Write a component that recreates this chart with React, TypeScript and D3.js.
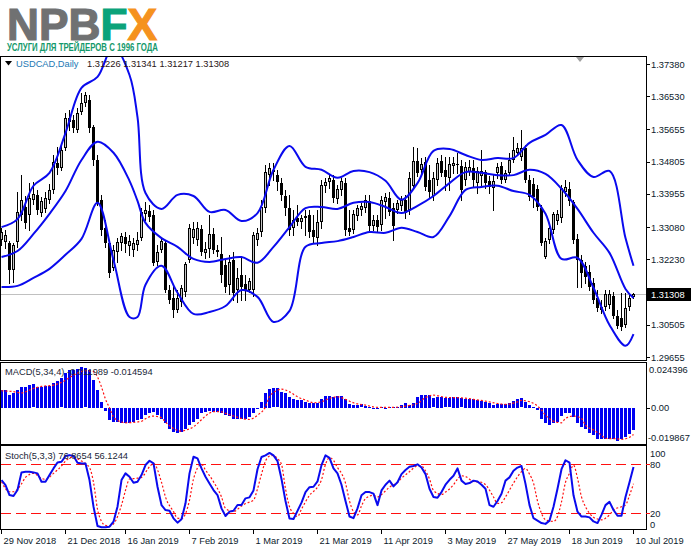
import React from 'react';
import * as d3 from 'd3';

// ---------- DATA ----------
const openP = [1.3274,1.3269,1.3266,1.3195,1.3269,1.3340,1.3361,1.3340,1.3380,1.3393,
1.3345,1.3356,1.3380,1.3406,1.3477,1.3464,1.3517,1.3585,1.3590,1.3564,
1.3611,1.3635,1.3643,1.3572,1.3485,1.3380,1.3306,1.3266,1.3200,1.3243,
1.3266,1.3282,1.3258,1.3248,1.3261,1.3279,1.3343,1.3351,1.3340,1.3216,
1.3248,1.3266,1.3142,1.3121,1.3090,1.3111,1.3137,1.3221,1.3279,1.3274,
1.3303,1.3240,1.3250,1.3290,1.3248,1.3237,1.3208,1.3156,1.3221,1.3142,
1.3182,1.3158,1.3142,1.3142,1.3274,1.3295,1.3358,1.3445,1.3459,1.3445,
1.3424,1.3390,1.3358,1.3306,1.3332,1.3322,1.3332,1.3340,1.3300,1.3279,
1.3322,1.3417,1.3427,1.3432,1.3382,1.3406,1.3424,1.3306,1.3300,1.3337,
1.3353,1.3358,1.3377,1.3311,1.3327,1.3314,1.3374,1.3385,1.3358,1.3353,
1.3364,1.3380,1.3353,1.3417,1.3482,1.3459,1.3480,1.3432,1.3390,1.3432,
1.3482,1.3459,1.3438,1.3469,1.3474,1.3469,1.3432,1.3453,1.3464,1.3424,
1.3443,1.3453,1.3430,1.3411,1.3451,1.3469,1.3432,1.3451,1.3485,1.3504,
1.3493,1.3517,1.3432,1.3422,1.3409,1.3358,1.3229,1.3274,1.3300,1.3324,
1.3332,1.3401,1.3409,1.3374,1.3277,1.3221,1.3206,1.3190,1.3161,1.3121,
1.3097,1.3097,1.3103,1.3127,1.3074,1.3069,1.3050,1.3097,1.31226];
const highP = [1.3306,1.3300,1.3271,1.3266,1.3401,1.3445,1.3390,1.3424,1.3427,1.3406,
1.3387,1.3401,1.3422,1.3498,1.3519,1.3530,1.3609,1.3617,1.3604,1.3622,
1.3662,1.3664,1.3656,1.3577,1.3498,1.3393,1.3327,1.3274,1.3261,1.3279,
1.3293,1.3295,1.3287,1.3279,1.3295,1.3358,1.3374,1.3366,1.3353,1.3261,
1.3279,1.3274,1.3156,1.3156,1.3142,1.3156,1.3216,1.3316,1.3322,1.3322,
1.3314,1.3269,1.3340,1.3306,1.3261,1.3282,1.3227,1.3235,1.3243,1.3200,
1.3229,1.3182,1.3174,1.3295,1.3306,1.3380,1.3472,1.3477,1.3477,1.3459,
1.3438,1.3406,1.3393,1.3353,1.3366,1.3340,1.3353,1.3353,1.3340,1.3353,
1.3432,1.3438,1.3445,1.3445,1.3419,1.3438,1.3438,1.3353,1.3353,1.3366,
1.3372,1.3393,1.3393,1.3340,1.3340,1.3390,1.3398,1.3401,1.3372,1.3380,
1.3390,1.3393,1.3453,1.3519,1.3517,1.3490,1.3493,1.3472,1.3453,1.3490,
1.3498,1.3493,1.3493,1.3493,1.3504,1.3485,1.3480,1.3485,1.3485,1.3467,
1.3511,1.3459,1.3443,1.3445,1.3477,1.3480,1.3459,1.3504,1.3546,1.3530,
1.3564,1.3525,1.3445,1.3438,1.3419,1.3366,1.3279,1.3314,1.3348,1.3353,
1.3419,1.3432,1.3427,1.3380,1.3290,1.3235,1.3216,1.3208,1.3174,1.3142,
1.3116,1.3142,1.3142,1.3137,1.3090,1.3135,1.3135,1.3129,1.31341];
const lowP = [1.3261,1.3253,1.3161,1.3164,1.3256,1.3327,1.3306,1.3300,1.3369,1.3343,
1.3337,1.3348,1.3372,1.3398,1.3448,1.3459,1.3511,1.3564,1.3559,1.3559,
1.3606,1.3627,1.3559,1.3472,1.3366,1.3287,1.3256,1.3177,1.3195,1.3216,
1.3248,1.3243,1.3235,1.3232,1.3248,1.3274,1.3327,1.3324,1.3208,1.3208,
1.3243,1.3137,1.3108,1.3071,1.3084,1.3100,1.3127,1.3216,1.3266,1.3261,
1.3235,1.3227,1.3229,1.3240,1.3232,1.3164,1.3137,1.3132,1.3116,1.3111,
1.3116,1.3116,1.3137,1.3127,1.3261,1.3285,1.3348,1.3419,1.3432,1.3406,
1.3380,1.3340,1.3287,1.3287,1.3314,1.3306,1.3287,1.3282,1.3269,1.3261,
1.3306,1.3401,1.3411,1.3374,1.3372,1.3393,1.3287,1.3287,1.3293,1.3327,
1.3340,1.3348,1.3300,1.3300,1.3295,1.3300,1.3332,1.3340,1.3274,1.3345,
1.3353,1.3332,1.3343,1.3409,1.3443,1.3445,1.3406,1.3385,1.3380,1.3419,
1.3443,1.3406,1.3406,1.3451,1.3451,1.3380,1.3419,1.3445,1.3414,1.3398,
1.3414,1.3411,1.3398,1.3353,1.3438,1.3424,1.3427,1.3445,1.3480,1.3498,
1.3485,1.3427,1.3380,1.3361,1.3353,1.3261,1.3227,1.3266,1.3293,1.3316,
1.3322,1.3390,1.3366,1.3266,1.3150,1.3150,1.3161,1.3142,1.3108,1.3087,
1.3082,1.3090,1.3095,1.3069,1.3042,1.3037,1.3045,1.3090,1.31217];
const closeP = [1.3295,1.3287,1.3195,1.3261,1.3348,1.3380,1.3319,1.3385,1.3395,1.3353,
1.3377,1.3385,1.3406,1.3480,1.3464,1.3511,1.3596,1.3596,1.3569,1.3609,
1.3635,1.3656,1.3569,1.3485,1.3372,1.3300,1.3266,1.3187,1.3248,1.3269,
1.3285,1.3264,1.3271,1.3266,1.3274,1.3348,1.3353,1.3335,1.3214,1.3243,
1.3271,1.3142,1.3116,1.3090,1.3121,1.3148,1.3211,1.3306,1.3303,1.3306,
1.3243,1.3250,1.3290,1.3248,1.3243,1.3182,1.3150,1.3216,1.3135,1.3174,
1.3150,1.3140,1.3166,1.3287,1.3293,1.3361,1.3453,1.3464,1.3453,1.3427,
1.3393,1.3358,1.3300,1.3327,1.3322,1.3332,1.3337,1.3295,1.3282,1.3322,
1.3419,1.3427,1.3438,1.3385,1.3409,1.3430,1.3300,1.3295,1.3343,1.3358,
1.3364,1.3380,1.3311,1.3327,1.3308,1.3380,1.3387,1.3348,1.3311,1.3372,
1.3380,1.3345,1.3438,1.3482,1.3451,1.3474,1.3414,1.3401,1.3438,1.3477,
1.3451,1.3440,1.3474,1.3477,1.3472,1.3406,1.3467,1.3467,1.3432,1.3456,
1.3456,1.3424,1.3414,1.3430,1.3467,1.3432,1.3451,1.3485,1.3511,1.3517,
1.3517,1.3432,1.3387,1.3387,1.3361,1.3266,1.3271,1.3306,1.3343,1.3343,
1.3411,1.3414,1.3377,1.3274,1.3221,1.3187,1.3177,1.3150,1.3116,1.3095,
1.3090,1.3132,1.3132,1.3074,1.3048,1.3045,1.3095,1.3121,1.31308];

const bbIdx = [0,4,8,12,16,20,24,28,32,34,36,40,44,48,52,56,60,64,68,72,76,80,84,88,92,96,100,104,108,112,116,120,124,128,132,136,140,144,148,152,156,158];
const bbUpper = [1.3308,1.3329,1.3417,1.3451,1.3556,1.3675,1.3704,1.3785,1.3709,1.3598,1.3398,1.3356,1.3393,1.3390,1.3348,1.3353,1.3324,1.3345,1.3459,1.3522,1.3467,1.3459,1.3438,1.3456,1.3453,1.3430,1.3380,1.3424,1.3509,1.3514,1.3498,1.3485,1.3490,1.3490,1.3530,1.3551,1.3577,1.3485,1.3440,1.3456,1.3279,1.3206];
const bbMiddle = [1.3229,1.3245,1.3290,1.3343,1.3403,1.3485,1.3533,1.3504,1.3430,1.3377,1.3319,1.3279,1.3256,1.3224,1.3216,1.3224,1.3229,1.3214,1.3256,1.3308,1.3358,1.3361,1.3356,1.3372,1.3374,1.3361,1.3345,1.3364,1.3390,1.3424,1.3453,1.3451,1.3445,1.3445,1.3459,1.3448,1.3409,1.3356,1.3293,1.3240,1.3145,1.3121];
const bbLower = [1.3150,1.3153,1.3174,1.3198,1.3235,1.3277,1.3372,1.3221,1.3071,1.3071,1.3156,1.3206,1.3135,1.3079,1.3084,1.3100,1.3142,1.3124,1.3058,1.3087,1.3256,1.3266,1.3271,1.3282,1.3295,1.3293,1.3306,1.3295,1.3282,1.3337,1.3406,1.3414,1.3417,1.3403,1.3393,1.3343,1.3224,1.3227,1.3148,1.3050,1.2995,1.3026];

const macdMain = [0.0098,0.0098,0.0070,0.0080,0.0098,0.0113,0.0116,0.0125,0.0129,0.0116,
0.0116,0.0120,0.0120,0.0135,0.0147,0.0162,0.0190,0.0208,0.0208,0.0212,
0.0223,0.0217,0.0208,0.0153,0.0098,0.0034,-0.0016,-0.0067,-0.0076,-0.0076,
-0.0082,-0.0082,-0.0082,-0.0076,-0.0067,-0.0058,-0.0040,-0.0030,-0.0021,-0.0040,
-0.0058,-0.0085,-0.0113,-0.0131,-0.0137,-0.0131,-0.0118,-0.0095,-0.0076,-0.0058,
-0.0030,-0.0021,-0.0016,-0.0021,-0.0021,-0.0027,-0.0040,-0.0045,-0.0063,-0.0063,
-0.0063,-0.0058,-0.0049,-0.0030,-0.0003,0.0034,0.0080,0.0102,0.0107,0.0107,
0.0089,0.0080,0.0061,0.0047,0.0043,0.0043,0.0034,0.0025,0.0025,0.0028,
0.0047,0.0065,0.0065,0.0061,0.0065,0.0065,0.0047,0.0021,0.0015,0.0015,
0.0019,0.0012,0.0006,-0.0003,-0.0008,0.0006,-0.0003,0.0006,0.0006,0.0006,
0.0015,0.0025,0.0015,0.0028,0.0058,0.0070,0.0070,0.0070,0.0052,0.0058,
0.0058,0.0052,0.0052,0.0061,0.0061,0.0052,0.0047,0.0047,0.0047,0.0043,
0.0039,0.0034,0.0025,0.0015,0.0021,0.0021,0.0021,0.0025,0.0039,0.0047,
0.0052,0.0034,0.0015,0.0006,-0.0012,-0.0063,-0.0085,-0.0095,-0.0085,-0.0076,
-0.0045,-0.0030,-0.0030,-0.0049,-0.0085,-0.0104,-0.0118,-0.0137,-0.0150,-0.0168,
-0.0173,-0.0168,-0.0168,-0.0173,-0.0181,-0.0173,-0.0162,-0.0144,-0.0120];
const macdSigIdx = [0,3,5,6,8,10,13,15,18,21,23,24,25,26,27,28,30,31,35,36,38,40,41,43,45,46,48,50,51,53,55,56,58,60,62,64,66,67,69,70,72,74,76,78,80,82,84,86,88,91,94,98,101,104,106,108,111,115,118,121,124,126,129,130,132,134,135,136,138,140,141,143,145,146,148,150,151,154,155,157,158];
const macdSigVal = [0.0094,0.0089,0.0082,0.0088,0.0107,0.0118,0.0125,0.0140,0.0180,0.0204,0.0199,0.0170,0.0115,0.0048,0.0000,-0.0049,-0.0078,-0.0082,-0.0074,-0.0060,-0.0045,-0.0055,-0.0078,-0.0113,-0.0128,-0.0123,-0.0104,-0.0065,-0.0045,-0.0021,-0.0022,-0.0030,-0.0045,-0.0058,-0.0064,-0.0040,0.0006,0.0061,0.0097,0.0103,0.0088,0.0061,0.0043,0.0028,0.0034,0.0052,0.0061,0.0047,0.0028,0.0015,0.0003,0.0003,0.0010,0.0024,0.0057,0.0070,0.0058,0.0055,0.0047,0.0037,0.0024,0.0019,0.0033,0.0041,0.0034,0.0010,-0.0012,-0.0040,-0.0073,-0.0082,-0.0058,-0.0045,-0.0058,-0.0095,-0.0122,-0.0150,-0.0168,-0.0170,-0.0173,-0.0162,-0.0146];

const stochMain = [60.7,54.6,42.3,41.1,48.5,70.1,70.9,70.9,70.1,68.9,
58.7,58.7,66.8,75.0,82.3,83.2,90.1,91.3,90.1,81.9,
81.1,81.1,60.7,28.1,4.4,2.8,2.8,3.6,9.7,28.1,
60.7,68.9,64.8,57.4,58.7,66.8,79.1,84.4,81.1,52.5,
30.1,24.0,23.1,13.8,8.5,12.6,32.2,68.9,89.3,87.2,
75.0,64.8,56.6,48.5,42.3,26.0,16.6,22.0,23.1,30.1,
30.1,38.3,39.5,48,74,89,91,94,91,84,
62,35,13.5,13,23,33,46,52,52.5,59,
79,91,88,75,69,55,35,16,14,26,
42,46,46,44,30,48,55,60,53,58,
68,73,77,78,80,76,68,50,40,39,
46,55,61,66,75,60,56,57,60,59,
55,50,30,28,35,44,60,64,72,76,
78,56,30,14,11,8,7,11,28,50,
74,85,82,42,22,16,16,15,10,8,
18,30,34,24,17,17,40,58,76.8654];
const stochSigIdx = [0,2,3,5,6,8,10,11,13,15,16,18,19,20,22,23,24,25,26,27,28,30,31,32,34,35,37,38,40,41,43,44,45,47,48,50,51,53,55,56,58,60,61,63,64,65,66,67,68,69,70,71,72,73,74,75,77,79,80,81,82,83,84,85,86,87,88,89,90,91,93,94,95,97,99,100,102,104,105,106,107,108,110,111,113,114,115,116,118,120,121,123,124,125,126,128,130,131,132,133,134,135,136,138,139,140,141,142,143,144,145,146,147,148,149,150,151,152,153,155,156,157,158];
const stochSigVal = [58.7,46.4,46.4,56,64,68.9,62.8,61.5,68.9,78,84,89,87,84,76,58,25,10,5.2,4.4,7,30,48,62,63,64,77,81,58,40,22,14,13.5,36,62,80,73,58.7,40,26,22,29,32,36,50,68,84,90,91,87,80,50,28,20,16,25,42,52,61,80,88,85,76,69,57,35,22,18,29,38,42,40,43,52,58,63,71,78,78,72,62,48,43,46,55,62,66,65,59,58,55,40,32,33,40,57,71,75,68,57,35,20,12,10,16,34,58,69,79,63,40,28,20,15,13,12,14,18,24,28,30,42,56.1244];

const priceTicks = [1.3738, 1.3653, 1.35655, 1.34805, 1.33955, 1.3308, 1.3223, 1.30505, 1.29655];
const priceTickText = ['1.37380','1.36530','1.35655','1.34805','1.33955','1.33080','1.32230','1.30505','1.29655'];
const lastPrice = 1.31308;
const headerValues = ['1.31226', '1.31341', '1.31217', '1.31308'];
const macdTicks = [0.024396, 0.0, -0.019867];
const macdTickText = ['0.024396', '0.00', '-0.019867'];
const stochTicks = [100, 80, 20, 0];
const stochLevels = [80, 20];
const dateIdx = [0, 16, 31, 47, 63, 79, 95, 111, 126, 142, 158];
const dateText = ['29 Nov 2018','21 Dec 2018','16 Jan 2019','7 Feb 2019','1 Mar 2019','21 Mar 2019','11 Apr 2019','3 May 2019','27 May 2019','18 Jun 2019','10 Jul 2019'];

// ---------- CHART ----------
const FONT = "'Liberation Sans', Arial, sans-serif";
const FS = 9.3;
const AXIS_X = 646;

export default function App() {
  const x = d3.scaleLinear().domain([0, 158]).range([1.5, 633.5]);
  const yP = d3.scaleLinear().domain([1.29655, 1.3738]).range([357, 64]);
  const yM = d3.scaleLinear().domain([-0.019867, 0.024396]).range([444, 363.5]);
  const yS = d3.scaleLinear().domain([0, 100]).range([529.6, 448]);
  const bars = d3.range(closeP.length);

  const band = (vals: number[]) =>
    d3.line<number>().x((_, k) => x(bbIdx[k])).y((v) => yP(v)).curve(d3.curveCatmullRom.alpha(0.5))(vals) || '';
  const macdSig = d3.line<number>().x((_, k) => x(macdSigIdx[k])).y((v) => yM(v)).curve(d3.curveMonotoneX)(macdSigVal) || '';
  const stMain = d3.line<number>().x((_, k) => x(k)).y((v) => yS(v))(stochMain) || '';
  const stSig = d3.line<number>().x((_, k) => x(stochSigIdx[k])).y((v) => yS(v)).curve(d3.curveMonotoneX)(stochSigVal) || '';

  const lastY = Math.round(yP(lastPrice)) + 0.5;

  return (
    <svg width={691} height={549} style={{ position: 'absolute', left: 0, top: 0, display: 'block' }} fontFamily={FONT}>
      <defs>
        <clipPath id="mainClip"><rect x={1} y={57} width={AXIS_X - 1} height={303} /></clipPath>
        <clipPath id="macdClip"><rect x={1} y={363} width={AXIS_X - 1} height={81} /></clipPath>
        <clipPath id="stClip"><rect x={1} y={446} width={AXIS_X - 1} height={83} /></clipPath>
        <clipPath id="xClip"><polygon points="128,27 142,27 142,44 120,44" /></clipPath>
      </defs>
      <rect x={0} y={0} width={691} height={549} fill="#ffffff" />

      {/* Logo */}
      <text x={7} y={40} fontFamily={FONT} fontWeight="bold" fontSize={44.5} textLength={150} lengthAdjust="spacingAndGlyphs">
        <tspan fill="#707172" stroke="#707172" strokeWidth={1.2}>NPB</tspan>
        <tspan fill="#0ba37a" stroke="#0ba37a" strokeWidth={1.2}>F</tspan>
        <tspan fill="#f5921e" stroke="#f5921e" strokeWidth={1.2}>X</tspan>
      </text>
      <text x={7} y={50.5} fontFamily="'Liberation Sans Narrow', 'Liberation Sans', Arial, sans-serif" fontWeight="bold" fontSize={11.5} fill="#14996b" textLength={151} lengthAdjust="spacingAndGlyphs">
        УСЛУГИ ДЛЯ ТРЕЙДЕРОВ С 1996 ГОДА
      </text>

      {/* Panel frames */}
      <g fill="none" stroke="#000" strokeWidth={1} shapeRendering="crispEdges">
        <rect x={0.5} y={56.5} width={AXIS_X} height={304} />
        <rect x={0.5} y={362.5} width={AXIS_X} height={82} />
        <rect x={0.5} y={445.5} width={AXIS_X} height={84} />
      </g>

      {/* Current price line */}
      <line x1={1} x2={AXIS_X} y1={lastY} y2={lastY} stroke="#c0c0c0" strokeWidth={1} />

      {/* Chart shift marker */}
      <polygon points="576,57 584,57 580,62" fill="#a0a0a0" />

      {/* Candles */}
      <g clipPath="url(#mainClip)" shapeRendering="crispEdges">
        {bars.map((i) => {
          const cx = Math.floor(x(i));
          const o = yP(openP[i]);
          const c = yP(closeP[i]);
          const top = Math.round(Math.min(o, c));
          const bot = Math.round(Math.max(o, c));
          const bull = closeP[i] >= openP[i];
          return (
            <g key={i}>
              <line x1={cx + 0.5} x2={cx + 0.5} y1={Math.round(yP(highP[i]))} y2={Math.round(yP(lowP[i])) + 1} stroke="#000" />
              {bull ? (
                <rect x={cx - 0.5} y={top + 0.5} width={2} height={Math.max(bot - top - 1, 0)} fill="#c4c4c4" stroke="#000" />
              ) : (
                <rect x={cx - 1} y={top} width={3} height={Math.max(bot - top, 1)} fill="#000" />
              )}
            </g>
          );
        })}
      </g>

      {/* Bollinger bands */}
      <g clipPath="url(#mainClip)" fill="none" stroke="#0a0aee" strokeWidth={2} strokeLinejoin="round">
        <path d={band(bbUpper)} />
        <path d={band(bbMiddle)} />
        <path d={band(bbLower)} />
      </g>

      {/* Header */}
      <polygon points="5,61 12,61 8.5,65.5" fill="#000" />
      <text x={16} y={67} fontSize={FS} fill="#1c78b4">USDCAD,Daily</text>
      <text x={87} y={67} fontSize={FS} fill="#2a1414">{headerValues.join(' ')}</text>

      {/* MACD */}
      <g clipPath="url(#macdClip)">
        {bars.map((i) => {
          const cx = Math.floor(x(i));
          const y0 = yM(0);
          const y1 = yM(macdMain[i]);
          return (
            <rect key={i} x={cx - 1} y={Math.round(Math.min(y0, y1))} width={3}
              height={Math.max(Math.round(Math.abs(y1 - y0)), 1)} fill="#0000f2" shapeRendering="crispEdges" />
          );
        })}
        <path d={macdSig} fill="none" stroke="#ff1010" strokeWidth={1.2} strokeDasharray="2,2" />
      </g>
      <text x={5} y={375} fontSize={FS} fill="#1a2638">MACD(5,34,4) -0.011989 -0.014594</text>

      {/* Stochastic */}
      <g clipPath="url(#stClip)">
        {stochLevels.map((lv) => (
          <line key={lv} x1={1} x2={AXIS_X} y1={Math.round(yS(lv)) + 0.5} y2={Math.round(yS(lv)) + 0.5}
            stroke="#ff1010" strokeWidth={1} strokeDasharray="10,5" />
        ))}
        <path d={stSig} fill="none" stroke="#ff1010" strokeWidth={1.2} strokeDasharray="2,2" />
        <path d={stMain} fill="none" stroke="#0a0aee" strokeWidth={2} strokeLinejoin="round" />
      </g>
      <text x={5} y={459} fontSize={FS} fill="#1a2638">Stoch(5,3,3) 76.8654 56.1244</text>

      {/* Right axis */}
      <g fontSize={FS} fill="#0c1a2c">
        {priceTicks.map((p, k) => (
          <g key={k}>
            <line x1={AXIS_X} x2={AXIS_X + 4} y1={Math.round(yP(p)) + 0.5} y2={Math.round(yP(p)) + 0.5} stroke="#000" />
            <text x={651} y={yP(p) + 3.5}>{priceTickText[k]}</text>
          </g>
        ))}
        <rect x={647} y={288} width={44} height={13} fill="#000" />
        <text x={651} y={lastY + 3.5} fill="#ffffff">{lastPrice.toFixed(5)}</text>

        <text x={649} y={372.5}>{macdTickText[0]}</text>
        <line x1={AXIS_X} x2={AXIS_X + 4} y1={Math.round(yM(macdTicks[1])) + 0.5} y2={Math.round(yM(macdTicks[1])) + 0.5} stroke="#000" />
        <text x={651} y={yM(macdTicks[1]) + 3.5}>{macdTickText[1]}</text>
        <text x={648} y={440.5}>{macdTickText[2]}</text>

        <text x={650} y={456.8}>{stochTicks[0]}</text>
        <line x1={AXIS_X} x2={AXIS_X + 4} y1={Math.round(yS(80)) + 0.5} y2={Math.round(yS(80)) + 0.5} stroke="#ff1010" />
        <text x={650} y={yS(80) + 3.4}>{stochTicks[1]}</text>
        <line x1={AXIS_X} x2={AXIS_X + 4} y1={Math.round(yS(20)) + 0.5} y2={Math.round(yS(20)) + 0.5} stroke="#ff1010" />
        <text x={650} y={yS(20) + 3.4}>{stochTicks[2]}</text>
        <text x={650} y={527.5}>{stochTicks[3]}</text>
      </g>

      {/* Date axis */}
      <g fontSize={FS} fill="#0c1a2c">
        {dateIdx.map((di, k) => {
          const tx = Math.floor(x(di)) + 0.5;
          return (
            <g key={k}>
              <line x1={tx} x2={tx} y1={530} y2={534} stroke="#000" />
              <text x={tx + 2} y={543.5}>{dateText[k]}</text>
            </g>
          );
        })}
      </g>
    </svg>
  );
}
